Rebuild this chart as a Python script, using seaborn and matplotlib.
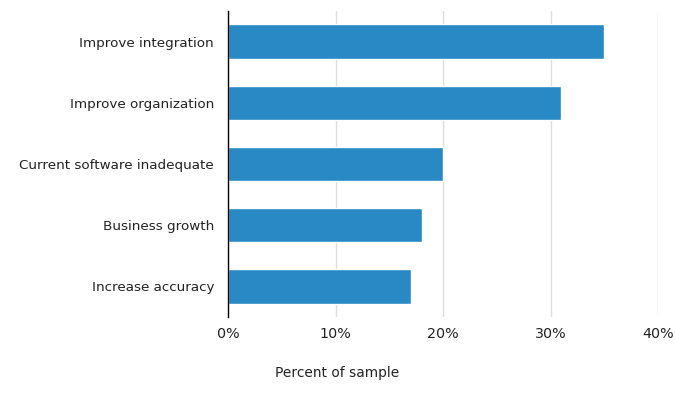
import matplotlib
matplotlib.use("Agg")
import matplotlib.pyplot as plt
import seaborn as sns
import pandas as pd
from matplotlib.ticker import FuncFormatter

categories = ["Improve integration", "Improve organization", "Current software inadequate",
              "Business growth", "Increase accuracy"]
values = [35, 31, 20, 18, 17]
xticks = [0, 10, 20, 30, 40]

df = pd.DataFrame({"reason": categories, "pct": values})

sns.set_theme(style="white")
plt.rcParams["font.family"] = ["DejaVu Sans"]

fig = plt.figure(figsize=(6.75, 3.97), dpi=100)
ax = fig.add_axes([228/675, 1-317/397, (658-228)/675, (317-11)/397])
sns.barplot(data=df, y="reason", x="pct", orient="h", color="#2989c5",
            saturation=1, width=0.56, ax=ax)
ax.set_xlim(0, 40)
ax.set_ylim(4.5, -0.5)
ax.set_xticks(xticks)
ax.xaxis.set_major_formatter(FuncFormatter(lambda v, p: f"{int(v)}%"))
ax.grid(axis="x", color="#dddddd", linewidth=1)
ax.set_axisbelow(True)
for s in ["top", "right", "bottom"]:
    ax.spines[s].set_visible(False)
ax.spines["left"].set_color("black")
ax.spines["left"].set_linewidth(1)
ax.tick_params(axis="both", length=0, colors="#222222")
ax.tick_params(axis="x", pad=7, labelsize=10.3)
ax.tick_params(axis="y", pad=10, labelsize=9.7)
ax.set_xlabel("")
ax.set_ylabel("")
fig.text(337.5/675, 1-373/397, "Percent of sample", ha="center", va="center",
         fontsize=9.9, color="#222222")
fig.savefig("out.png", dpi=100)
